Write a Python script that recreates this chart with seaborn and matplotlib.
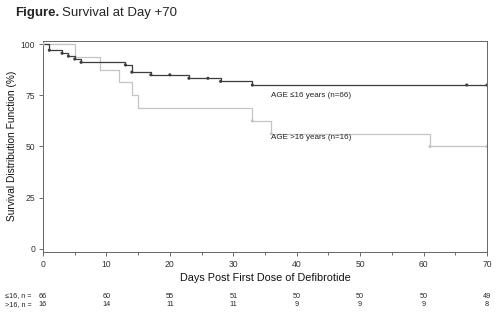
import numpy as np
import pandas as pd
import matplotlib
matplotlib.use("Agg")
import matplotlib.pyplot as plt
import matplotlib.transforms as mtransforms
import seaborn as sns

# ---- data ----
young_days = [0, 1, 3, 4, 5, 6, 13, 14, 17, 23, 28, 33, 70]
young_surv = [100, 97.0, 95.5, 94.1, 92.7, 91.1, 89.8, 86.3, 85.0, 83.3, 81.8, 80.0, 80.0]
young_mark_days = [1, 3, 4, 5, 6, 13, 14, 17, 20, 23, 26, 28, 33, 66.8, 70]
young_mark_surv = [97.0, 95.5, 94.1, 92.7, 91.1, 89.8, 86.3, 85.0, 85.0, 83.3, 83.3, 81.8, 80.0, 80.0, 80.0]

old_days = [0, 5, 9, 12, 14, 15, 33, 36, 61, 70]
old_surv = [100, 93.75, 87.5, 81.25, 75.0, 68.75, 62.5, 56.25, 50.0, 50.0]
old_mark_days = [0, 33, 36, 61, 70]
old_mark_surv = [100, 62.5, 56.25, 50.0, 50.0]

group_labels = ["AGE \u226416 years (n=66)", "AGE >16 years (n=16)"]
risk_days = [0, 10, 20, 30, 40, 50, 60, 70]
risk_young = [66, 60, 55, 51, 50, 50, 50, 49]
risk_old = [16, 14, 11, 11, 9, 9, 9, 8]
risk_row_labels = ["\u226416, n =", ">16, n ="]
x_ticks = [0, 10, 20, 30, 40, 50, 60, 70]
y_ticks = [0, 25, 50, 75, 100]

dark = "#3c3c3c"
light = "#c4c4c4"

sns.set_theme(style="white")
plt.rcParams["font.family"] = ["Liberation Sans", "DejaVu Sans"]

fig = plt.figure(figsize=(5, 3.25), dpi=100)
ax = fig.add_axes([43/500, 1-252/325, (487-43)/500, (252-41)/325])

df = pd.concat([
    pd.DataFrame({"day": young_days, "surv": young_surv, "group": "young"}),
    pd.DataFrame({"day": old_days, "surv": old_surv, "group": "old"}),
])
sns.lineplot(data=df, x="day", y="surv", hue="group", palette={"young": dark, "old": light},
             hue_order=["old", "young"],
             drawstyle="steps-post", estimator=None, sort=False, linewidth=0.9, legend=False, ax=ax)

mk = pd.concat([
    pd.DataFrame({"day": young_mark_days, "surv": young_mark_surv, "group": "young"}),
    pd.DataFrame({"day": old_mark_days, "surv": old_mark_surv, "group": "old"}),
])
sns.scatterplot(data=mk, x="day", y="surv", hue="group", palette={"young": dark, "old": light},
                s=5, marker="o", linewidth=0, legend=False, ax=ax, zorder=5)

ax.set_xlim(0, 70)
ax.set_ylim(-1.5, 101.5)
ax.set_xticks(x_ticks)
ax.set_xticks(np.arange(5, 70, 10), minor=True)
ax.set_yticks(y_ticks)
ax.tick_params(axis="both", which="major", labelsize=6.2, length=3, width=0.6,
               color="#555555", labelcolor="#333333", pad=2.5, direction="out")
ax.tick_params(axis="x", which="minor", length=2, width=0.6, color="#555555", bottom=True)
ax.tick_params(left=True, bottom=True)
for s in ax.spines.values():
    s.set_color("#666666")
    s.set_linewidth(0.7)
ax.set_xlabel("")
ax.set_ylabel("")

ax.text(36.0, 74.8, group_labels[0], fontsize=5.8, color="#222222", va="center", ha="left")
ax.text(36.0, 54.5, group_labels[1], fontsize=5.8, color="#222222", va="center", ha="left")

fig.text(0.024, (1 - 146/325), "Survival Distribution Function (%)", rotation=90,
         fontsize=7.3, ha="center", va="center", color="#111111")
fig.text((43+487)/2/500, 1 - 278/325, "Days Post First Dose of Defibrotide",
         fontsize=7.8, ha="center", va="center", color="#111111")

# title
renderer = fig.canvas.get_renderer()
t1 = fig.text(15/500, 1 - 12.7/325, "Figure.", fontsize=9.5, fontweight="bold", ha="left", va="center")
bb = t1.get_window_extent(renderer=renderer)
fig.text(bb.x1 / fig.bbox.width + 0.005, 1 - 12.7/325, "Survival at Day +70", fontsize=9.5,
         ha="left", va="center")

# at-risk table
trans = mtransforms.blended_transform_factory(ax.transData, fig.transFigure)
y1 = 1 - 296/325
y2 = 1 - 304.5/325
fs = 5.2
fig.text(5/500, y1, risk_row_labels[0], fontsize=fs, ha="left", va="center", color="#222222")
fig.text(5/500, y2, risk_row_labels[1], fontsize=fs, ha="left", va="center", color="#222222")
for d, a, b in zip(risk_days, risk_young, risk_old):
    ax.text(d, y1, str(a), transform=trans, fontsize=fs, ha="center", va="center", color="#222222")
    ax.text(d, y2, str(b), transform=trans, fontsize=fs, ha="center", va="center", color="#222222")

fig.savefig("out.png", dpi=100)
